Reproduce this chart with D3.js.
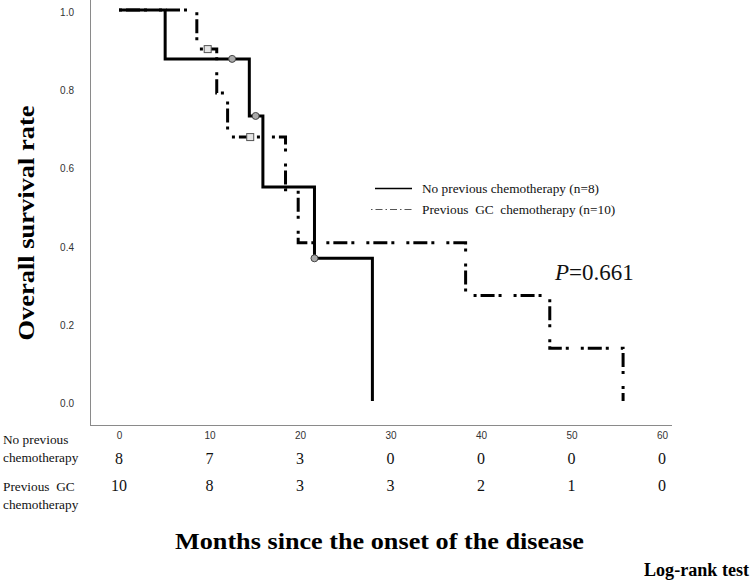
<!DOCTYPE html>
<html>
<head>
<meta charset="utf-8">
<script src="https://cdn.jsdelivr.net/npm/d3@7"></script>
<style>
  html, body { margin: 0; padding: 0; background: #fff; }
  svg { display: block; }
</style>
</head>
<body>
<svg id="chart" width="750" height="582"></svg>
<script>
// ---- data ----
const tickMonths = [0, 10, 20, 30, 40, 50, 60];
const yTicks = [0, 0.2, 0.4, 0.6, 0.8, 1.0];
const riskNoChemo = [8, 7, 3, 0, 0, 0, 0];
const riskGC = [10, 8, 3, 3, 2, 1, 0];

const noChemoTimes = [0, 5.1, 14.4, 15.9, 21.6, 28.0];
const noChemoSurv  = [1, 0.875, 0.729, 0.547, 0.365, 0];
const noChemoCensor = [12.5, 15.1, 21.6];

const gcTimes = [0, 8.6, 10.8, 12.0, 18.4, 19.8, 38.3, 47.6, 55.7];
const gcSurv  = [1, 0.9, 0.7875, 0.675, 0.54, 0.405, 0.27, 0.135, 0];
const gcCensor = [9.8, 14.5];

const legendLabels = ["No previous chemotherapy (n=8)", "Previous\u00a0 GC\u00a0 chemotherapy (n=10)"];
const rowLabels = [["No previous", "chemotherapy"], ["Previous\u00a0 GC", "chemotherapy"]];

// ---- scales ----
const svg = d3.select("#chart");
const x = d3.scaleLinear().domain([0, 60]).range([119, 662]);
const y = d3.scaleLinear().domain([0, 1]).range([401, 10]);

const serif = "'Liberation Serif', 'Times New Roman', serif";
const sans = "'Liberation Sans', Arial, sans-serif";

// axes frame lines
svg.append("line").attr("x1", 90.5).attr("x2", 90.5).attr("y1", 0).attr("y2", 425.5)
  .attr("stroke", "#8a8a8a").attr("stroke-width", 1);
svg.append("line").attr("x1", 90).attr("x2", 672).attr("y1", 425.5).attr("y2", 425.5)
  .attr("stroke", "#8a8a8a").attr("stroke-width", 1);

// y axis tick labels
const yAxis = d3.axisLeft(y).tickValues(yTicks).tickFormat(d3.format(".1f")).tickSize(0).tickPadding(0);
const yg = svg.append("g").attr("transform", "translate(74,0)").call(yAxis);
yg.select(".domain").remove();
yg.selectAll("text").attr("font-family", sans).attr("font-size", 10).attr("fill", "#333").attr("dy", "0.35em")
  .attr("transform", "translate(0,2)");

// x axis tick labels
const xAxis = d3.axisBottom(x).tickValues(tickMonths).tickFormat(d3.format("d")).tickSize(0).tickPadding(0);
const xg = svg.append("g").attr("transform", "translate(0,432)").call(xAxis);
xg.select(".domain").remove();
xg.selectAll("text").attr("font-family", sans).attr("font-size", 10).attr("fill", "#333");

// step curves
const line = d3.line().x(d => x(d[0])).y(d => y(d[1])).curve(d3.curveStepAfter);
const noChemoPts = noChemoTimes.map((t, i) => [t, noChemoSurv[i]]);
const gcPts = gcTimes.map((t, i) => [t, gcSurv[i]]);

function survAt(times, surv, t) {
  let s = surv[0];
  for (let i = 0; i < times.length; i++) if (times[i] <= t) s = surv[i];
  return s;
}

const dashDot = "3,4,14,4,3,12";

svg.append("path").attr("d", line(gcPts)).attr("fill", "none")
  .attr("stroke", "#000").attr("stroke-width", 3).attr("stroke-dasharray", dashDot);
svg.append("path").attr("d", line(noChemoPts)).attr("fill", "none")
  .attr("stroke", "#000").attr("stroke-width", 3);

// censor marks
svg.selectAll(".cc").data(noChemoCensor).enter().append("circle")
  .attr("cx", d => x(d)).attr("cy", d => y(survAt(noChemoTimes, noChemoSurv, d)))
  .attr("r", 3.5).attr("fill", "#aaa").attr("stroke", "#444").attr("stroke-width", 1);
svg.selectAll(".gc").data(gcCensor).enter().append("rect")
  .attr("x", d => x(d) - 3.5).attr("y", d => y(survAt(gcTimes, gcSurv, d)) - 3.5)
  .attr("width", 7).attr("height", 7).attr("fill", "#e6e6e6").attr("stroke", "#555").attr("stroke-width", 1);

// legend
const lg = svg.append("g");
lg.append("line").attr("x1", 375).attr("x2", 412).attr("y1", 188.5).attr("y2", 188.5)
  .attr("stroke", "#000").attr("stroke-width", 1.3);
lg.append("line").attr("x1", 371).attr("x2", 412).attr("y1", 209.5).attr("y2", 209.5)
  .attr("stroke", "#555").attr("stroke-width", 1.2).attr("stroke-dasharray", "1.5,3,7,3");
lg.selectAll("text").data(legendLabels).enter().append("text")
  .attr("x", 422).attr("y", (d, i) => 192.5 + i * 21)
  .attr("font-family", serif).attr("font-size", 13.3).attr("fill", "#111")
  .text(d => d);

// P value
const pt = svg.append("text").attr("x", 555).attr("y", 280)
  .attr("font-family", serif).attr("font-size", 23).attr("fill", "#111");
pt.append("tspan").attr("font-style", "italic").text("P");
pt.append("tspan").text("=0.661");

// y title
svg.append("text").attr("transform", "translate(34,223) rotate(-90)")
  .attr("text-anchor", "middle").attr("font-family", serif).attr("font-weight", "bold")
  .attr("font-size", 24).attr("textLength", 235).attr("lengthAdjust", "spacingAndGlyphs")
  .attr("fill", "#000").text("Overall survival rate");

// risk table
rowLabels.forEach((lines, r) => {
  lines.forEach((t, j) => {
    svg.append("text").attr("x", 3).attr("y", [443.5, 491][r] + j * 18)
      .attr("font-family", serif).attr("font-size", 13.3).attr("fill", "#111").text(t);
  });
});
[riskNoChemo, riskGC].forEach((row, r) => {
  svg.selectAll(".risk" + r).data(row).enter().append("text")
    .attr("x", (d, i) => x(tickMonths[i])).attr("y", [464, 491][r])
    .attr("text-anchor", "middle").attr("font-family", serif).attr("font-size", 16)
    .attr("fill", "#111").text(d => d);
});

// x title
svg.append("text").attr("x", 379.5).attr("y", 548.5).attr("text-anchor", "middle")
  .attr("font-family", serif).attr("font-weight", "bold").attr("font-size", 23)
  .attr("textLength", 409).attr("lengthAdjust", "spacingAndGlyphs")
  .attr("fill", "#000").text("Months since the onset of the disease");

// log-rank
svg.append("text").attr("x", 644).attr("y", 575.5)
  .attr("font-family", serif).attr("font-weight", "bold").attr("font-size", 18)
  .attr("textLength", 105).attr("lengthAdjust", "spacingAndGlyphs")
  .attr("fill", "#000").text("Log-rank test");
</script>
</body>
</html>
